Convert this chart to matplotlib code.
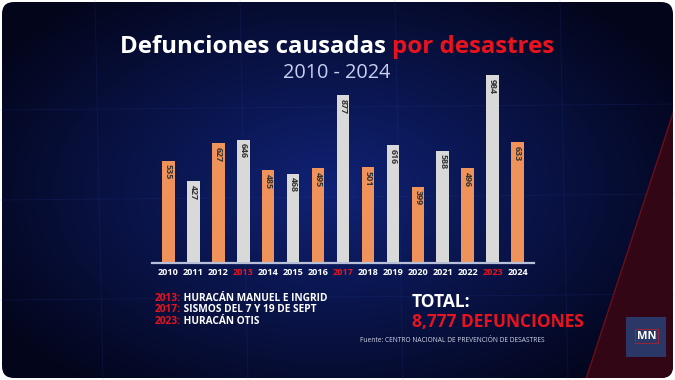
import numpy as np
import matplotlib.pyplot as plt
from matplotlib.patches import FancyBboxPatch, Polygon, Rectangle

# data
years = ["2010", "2011", "2012", "2013", "2014", "2015", "2016", "2017",
         "2018", "2019", "2020", "2021", "2022", "2023", "2024"]
deaths = [535, 427, 627, 646, 485, 468, 495, 877, 501, 616, 399, 588, 496, 984, 633]
highlight_years = ["2013", "2017", "2023"]
notes = [("2013:", " HURACÁN MANUEL E INGRID"),
         ("2017:", " SISMOS DEL 7 Y 19 DE SEPT"),
         ("2023:", " HURACÁN OTIS")]
total_text = "8,777 DEFUNCIONES"

W, H = 675, 380
ORANGE = "#f0935b"
GRAY = "#d9d9d9"
RED = "#e8131f"
FONT = "Open Sans"

fig = plt.figure(figsize=(W / 100, H / 100), dpi=100, facecolor="white")


def fx(x):
    return x / W


def fy(y):
    # y measured from the top in pixels
    return 1 - y / H


# background: dark navy radial gradient inside a rounded frame
bg = fig.add_axes([0, 0, 1, 1])
bg.set_xlim(0, W)
bg.set_ylim(H, 0)
bg.axis("off")
yy, xx = np.mgrid[0:H, 0:W]
d = np.sqrt(((xx - 330) / 400) ** 2 + ((yy - 190) / 250) ** 2)
d = np.clip(d, 0, 1)
inner = np.array([16, 34, 118]) / 255
outer = np.array([3, 5, 26]) / 255
img = inner[None, None, :] * (1 - d[..., None]) + outer[None, None, :] * d[..., None]
im = bg.imshow(img, extent=[0, W, H, 0], aspect="auto", zorder=0)
frame = FancyBboxPatch((2, 2), W - 4, H - 4, boxstyle="round,pad=0,rounding_size=12",
                       transform=bg.transData, facecolor="none", edgecolor="none")
bg.add_patch(frame)
im.set_clip_path(frame)

# faint grid lines in the background
for gx in [95, 240, 395, 560]:
    bg.plot([gx, gx + 8], [0, H], color="#3050c0", lw=0.6, alpha=0.15, zorder=1)
for gy in [110, 200, 300]:
    bg.plot([0, W], [gy, gy - 6], color="#3050c0", lw=0.6, alpha=0.15, zorder=1)

# red diagonal band on the right
band = Polygon([(W, 105), (W, H), (585, H)], closed=True, facecolor="#320614",
               edgecolor="#6a0e1c", lw=1.0, zorder=1)
bg.add_patch(band)
band.set_clip_path(frame)

# bar chart axes
step = 24.93
left_px = 168.5 - 0.65 * step
ax = fig.add_axes([left_px / W, 117 / H, 15.3 * step / W, 191 / H])
ax.set_facecolor("none")
x = np.arange(len(years))
colors = [ORANGE if i % 2 == 0 else GRAY for i in range(len(years))]
ax.bar(x, deaths, width=0.5, color=colors, zorder=2)
ax.set_xlim(-0.65, 14.65)
ax.set_ylim(0, 1000)
for s in ["top", "right", "left"]:
    ax.spines[s].set_visible(False)
ax.spines["bottom"].set_color("#b8bfd8")
ax.spines["bottom"].set_linewidth(1.6)
ax.set_yticks([])
ax.set_xticks(x)
ax.set_xticklabels(years, fontsize=6.6, fontweight="bold", family=FONT)
ax.tick_params(axis="x", length=0, pad=3.5)
for lab in ax.get_xticklabels():
    lab.set_color(RED if lab.get_text() in highlight_years else "white")

for xi, v in zip(x, deaths):
    ax.annotate(str(v), (xi, v), xytext=(0, -2.5), textcoords="offset points",
                rotation=-90, ha="center", va="top", fontsize=6.4,
                fontweight="bold", color="#333333", family=FONT)

renderer = fig.canvas.get_renderer()


def two_tone(x0, y0, parts, size, center=False, **kw):
    texts = []
    for s, c in parts:
        t = fig.text(fx(x0), fy(y0), s, color=c, fontsize=size, ha="left",
                     va="baseline", family=FONT, **kw)
        texts.append(t)
    widths = [t.get_window_extent(renderer).width for t in texts]
    start = x0 - sum(widths) / 2 if center else x0
    for t, w in zip(texts, widths):
        t.set_x(fx(start))
        start += w
    return texts


# title and subtitle
two_tone(337, 53, [("Defunciones causadas ", "white"), ("por desastres", RED)],
         17.3, center=True, fontweight="bold")
fig.text(fx(337), fy(78), "2010 - 2024", color="#c9cff0", fontsize=14.3,
         ha="center", va="baseline", family=FONT)

# notes
for i, (yr, txt) in enumerate(notes):
    two_tone(155, 301 + i * 11.5, [(yr, RED), (txt, "white")], 7.3, fontweight="bold")

# total
fig.text(fx(412), fy(307), "TOTAL:", color="white", fontsize=12.5,
         fontweight="bold", ha="left", va="baseline", family=FONT)
fig.text(fx(412), fy(327), total_text, color=RED, fontsize=12.5,
         fontweight="bold", ha="left", va="baseline", family=FONT)
fig.text(fx(360), fy(342), "Fuente: CENTRO NACIONAL DE PREVENCIÓN DE DESASTRES",
         color="#d0d4e8", fontsize=4.8, ha="left", va="baseline", family=FONT)

# MN logo
bg.add_patch(Rectangle((626, 317), 40, 40, facecolor="#2b3767", edgecolor="none", zorder=3))
bg.add_patch(Rectangle((635, 329), 23, 14, facecolor="none", edgecolor="#b02030",
                       lw=0.6, zorder=4))
bg.text(646.5, 336.5, "MN", color="white", fontsize=8, fontweight="bold",
        ha="center", va="center", family=FONT, zorder=5)

fig.savefig("out.png", dpi=100, facecolor="white")
